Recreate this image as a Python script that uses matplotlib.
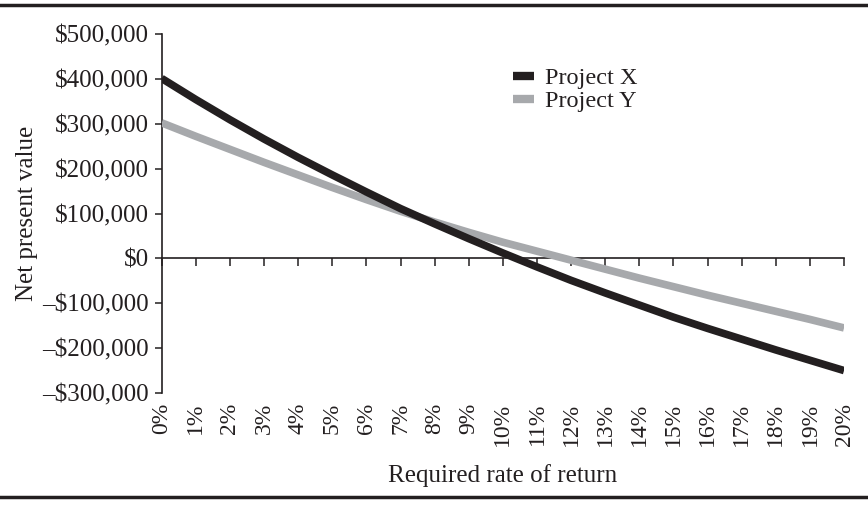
import matplotlib
matplotlib.use("Agg")
import matplotlib.pyplot as plt
from matplotlib.lines import Line2D

plt.rcParams['font.family'] = ['Liberation Serif', 'DejaVu Serif']

# Discount rates (%) and NPV profiles of the two projects
rates = list(range(0, 21))
rate_labels = [f"{r}%" for r in rates]
npv_x = [401000, 354000, 309000, 266000, 225000, 186000, 148000, 111000, 77000, 44000,
         12000, -19000, -49000, -77000, -104000, -131000, -156000, -180000, -204000,
         -227000, -250000]
npv_y = [302000, 272000, 243000, 214000, 186000, 158000, 131000, 105000, 81000, 58000,
         36000, 16000, -4000, -24000, -44000, -63000, -82000, -100000, -118000,
         -136000, -155000]
y_ticks = [500000, 400000, 300000, 200000, 100000, 0, -100000, -200000, -300000]
series_names = ["Project X", "Project Y"]

INK = "#231f20"
GREY = "#a7a9ac"


def money(v):
    if v < 0:
        return "\u2013${:,}".format(-v)
    return "${:,}".format(v)


fig = plt.figure(figsize=(8.68, 5.13), dpi=100)
ax = fig.add_axes([0.1863, 0.2339, 0.7861, 0.6998])

ax.plot(rates, npv_y, color=GREY, lw=5.5, solid_capstyle='butt', label=series_names[1], zorder=3)
ax.plot(rates, npv_x, color=INK, lw=5.5, solid_capstyle='butt', label=series_names[0], zorder=4)

ax.set_xlim(0, 20)
ax.set_ylim(-300000, 500000)

# axes styling: left spine plus a zero line carrying the rate ticks
for side in ("top", "right"):
    ax.spines[side].set_visible(False)
ax.spines['left'].set_color(INK)
ax.spines['left'].set_linewidth(1.2)
ax.spines['bottom'].set_position(('data', 0))
ax.spines['bottom'].set_color(INK)
ax.spines['bottom'].set_linewidth(1.2)

ax.set_yticks(y_ticks)
ax.set_yticklabels([money(v) for v in y_ticks])
ax.tick_params(axis='y', direction='out', length=5, width=1.1, color=INK,
               labelsize=18, labelcolor=INK, pad=4)
ax.set_xticks(rates)
ax.tick_params(axis='x', direction='out', length=6, width=1.1, color=INK,
               labelbottom=False)

# rate labels below the plotting area
sec = ax.secondary_xaxis('bottom')
sec.set_xticks(rates)
sec.set_xticklabels(rate_labels)
sec.spines['bottom'].set_visible(False)
sec.tick_params(axis='x', length=0, pad=7, labelrotation=90, labelsize=17, labelcolor=INK)

ax.set_ylabel("Net present value", fontsize=18, color=INK, labelpad=3)
sec.set_xlabel("Required rate of return", fontsize=18, color=INK, labelpad=13)

handles = [Line2D([], [], color=INK, lw=6, solid_capstyle='butt'),
           Line2D([], [], color=GREY, lw=6, solid_capstyle='butt')]
ax.legend(handles, series_names, loc='upper left', bbox_to_anchor=(0.5, 0.935),
          frameon=False, fontsize=17.5, handlelength=0.9, handletextpad=0.45,
          labelspacing=0.05, borderaxespad=0, labelcolor=INK)

# horizontal rules framing the figure
fig.add_artist(Line2D([0, 1], [0.991, 0.991], transform=fig.transFigure, color=INK, lw=2.5))
fig.add_artist(Line2D([0, 1], [0.031, 0.031], transform=fig.transFigure, color=INK, lw=2.5))

fig.savefig("out.png", dpi=100)
